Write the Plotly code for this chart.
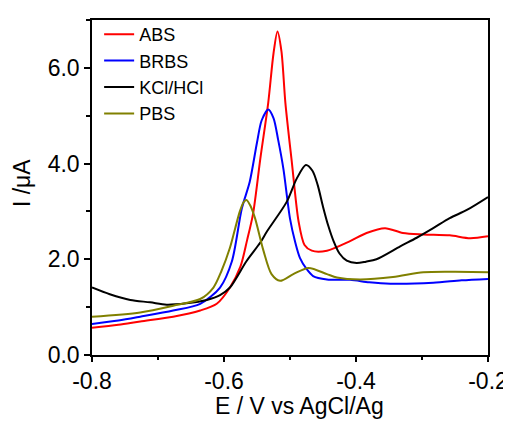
import plotly.graph_objects as go

# ABS (red)
abs_x = [-0.8, -0.76, -0.727, -0.677, -0.636, -0.611, -0.591, -0.575, -0.565, -0.556, -0.545, -0.533, -0.525, -0.519,
         -0.513, -0.507, -0.497, -0.487, -0.478, -0.467, -0.444, -0.409, -0.384, -0.356, -0.329, -0.298, -0.258, -0.227, -0.2]
abs_y = [0.57, 0.63, 0.70, 0.80, 0.93, 1.07, 1.41, 1.85, 2.4, 2.95, 4.1, 5.27, 6.3, 6.76,
         6.35, 5.27, 4.0, 2.79, 2.3, 2.18, 2.18, 2.38, 2.55, 2.65, 2.55, 2.52, 2.5, 2.44, 2.48]

# BRBS (blue)
brbs_x = [-0.8, -0.76, -0.727, -0.677, -0.636, -0.606, -0.588, -0.573, -0.561, -0.55, -0.543, -0.533, -0.525, -0.518,
          -0.51, -0.5, -0.492, -0.485, -0.475, -0.465, -0.444, -0.409, -0.38, -0.348, -0.283, -0.24, -0.2]
brbs_y = [0.65, 0.72, 0.80, 0.93, 1.07, 1.41, 1.96, 3.06, 3.62, 4.44, 4.9, 5.13, 4.95, 4.5,
          3.89, 2.85, 2.35, 2.03, 1.8, 1.65, 1.58, 1.57, 1.52, 1.49, 1.51, 1.56, 1.59]

# KCl/HCl (black)
kcl_x = [-0.8, -0.773, -0.742, -0.712, -0.687, -0.657, -0.626, -0.606, -0.591, -0.566, -0.545, -0.535, -0.505, -0.49,
         -0.476, -0.466, -0.458, -0.45, -0.442, -0.434, -0.425, -0.414, -0.399, -0.385, -0.369, -0.333, -0.308, -0.283,
         -0.258, -0.232, -0.2]
kcl_y = [1.41, 1.27, 1.15, 1.1, 1.05, 1.08, 1.15, 1.25, 1.41, 1.96, 2.35, 2.58, 3.2, 3.68,
         3.97, 3.85, 3.55, 3.1, 2.7, 2.38, 2.12, 1.97, 1.92, 1.95, 2.0, 2.27, 2.45, 2.65,
         2.86, 3.03, 3.3]

# PBS (olive)
pbs_x = [-0.8, -0.727, -0.677, -0.636, -0.616, -0.604, -0.591, -0.583, -0.576, -0.57, -0.566, -0.56, -0.553, -0.54,
         -0.528, -0.515, -0.495, -0.472, -0.444, -0.429, -0.394, -0.344, -0.298, -0.25, -0.2]
pbs_y = [0.8, 0.89, 1.03, 1.17, 1.41, 1.75, 2.24, 2.65, 3.0, 3.2, 3.24, 3.12, 2.86, 2.17,
         1.69, 1.55, 1.69, 1.82, 1.69, 1.62, 1.58, 1.63, 1.73, 1.74, 1.73]

series_names = ["ABS", "BRBS", "KCl/HCl", "PBS"]
series_colors = ["#ff0000", "#0000ff", "#000000", "#808000"]

x_tickvals = [-0.8, -0.6, -0.4, -0.2]
x_ticktext = ["-0.8", "-0.6", "-0.4", "-0.2"]
y_tickvals = [0, 2, 4, 6]
y_ticktext = ["0.0", "2.0", "4.0", "6.0"]
x_title = "E / V vs AgCl/Ag"
y_title = "I /μA"

FONT = "Liberation Sans, Arial, sans-serif"

fig = go.Figure()
for name, color, xs, ys in zip(series_names, series_colors,
                               [abs_x, brbs_x, kcl_x, pbs_x], [abs_y, brbs_y, kcl_y, pbs_y]):
    fig.add_trace(go.Scatter(x=xs, y=ys, mode="lines", name=name,
                             line=dict(color=color, width=2, shape="spline", smoothing=0.8)))

# page body has an 8px default margin: figure is sized/margined to compensate
fig.update_layout(
    width=503, height=415,
    margin=dict(l=84, r=23, t=8, b=68),
    paper_bgcolor="white", plot_bgcolor="white",
    font=dict(family=FONT, color="black", size=23),
    showlegend=True,
    legend=dict(x=0.018, y=1.012, xanchor="left", yanchor="top",
                font=dict(size=18, family=FONT, color="black"),
                bgcolor="rgba(0,0,0,0)", tracegroupgap=0, itemwidth=30),
    xaxis=dict(range=[-0.8, -0.2], tickvals=x_tickvals, ticktext=x_ticktext,
               automargin=False,
               showline=True, linecolor="black", linewidth=1.5, mirror=True,
               ticks="outside", ticklen=5, tickwidth=1.5, tickcolor="black",
               minor=dict(dtick=0.1, ticks="outside", ticklen=3, tickwidth=1.5, tickcolor="black"),
               showgrid=False, zeroline=False,
               tickfont=dict(size=23, family=FONT)),
    yaxis=dict(range=[0, 7], tickvals=y_tickvals, ticktext=y_ticktext,
               automargin=False,
               showline=True, linecolor="black", linewidth=1.5, mirror=True,
               ticks="outside", ticklen=6, tickwidth=1.5, tickcolor="black",
               minor=dict(dtick=1, ticks="outside", ticklen=4, tickwidth=1.5, tickcolor="black"),
               showgrid=False, zeroline=False,
               tickfont=dict(size=23, family=FONT)),
    annotations=[
        dict(text=x_title, xref="paper", yref="paper", x=0.523, y=-0.152,
             xanchor="center", yanchor="middle", showarrow=False,
             font=dict(size=23, family=FONT, color="black")),
        dict(text=y_title, xref="paper", yref="paper", x=-0.177, y=0.513,
             xanchor="center", yanchor="middle", showarrow=False, textangle=-90,
             font=dict(size=23, family=FONT, color="black")),
    ],
)

fig.write_html("out.html")
